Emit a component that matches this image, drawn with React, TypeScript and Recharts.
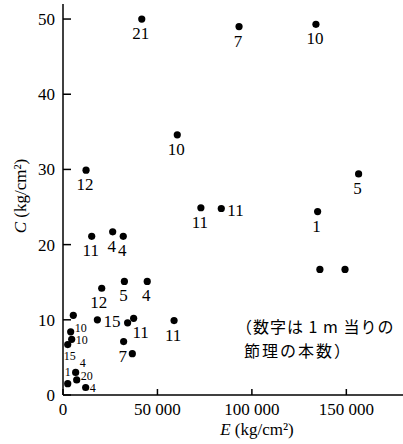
import { ScatterChart, Scatter, XAxis, YAxis, Label } from 'recharts';

// E (kg/cm2), C (kg/cm2) and joint count per metre
const modulusE = [
  41700, 60500, 12200, 93200, 133900, 156500, 134800, 83800, 73000, 15200,
  26300, 31900, 32500, 44600, 20500, 18200, 34200, 37400, 32100, 36700,
  58800, 5450, 4070, 4600, 2500, 2500, 6700, 7250, 12000, 136000, 149300,
];
const strengthC = [
  50.0, 34.6, 29.9, 49.0, 49.3, 29.4, 24.4, 24.8, 24.9, 21.1,
  21.7, 21.1, 15.1, 15.1, 14.2, 10.0, 9.6, 10.2, 7.1, 5.5,
  9.9, 10.6, 8.4, 7.4, 6.7, 1.5, 3.0, 2.0, 1.0, 16.7, 16.7,
];
const jointCount = [
  '21', '10', '12', '7', '10', '5', '1', '11', '11', '11',
  '4', '4', '5', '4', '12', '15', '', '11', '7', '',
  '11', '', '10', '10', '15', '1', '4', '20', '4', '', '',
];
const labelSide = [
  'below', 'below', 'below', 'below', 'below', 'below', 'below', 'right', 'below', 'below',
  'below', 'below', 'below', 'below', 'belowLeft', 'right', '', 'belowRight', 'below', '',
  'below', '', 'upRightSmall', 'rightSmall', 'belowSmall', 'aboveSmall', 'aboveRightSmall', 'upRightSmall', 'rightSmall', '', '',
];
const xTicks = [0, 50000, 100000, 150000];
const yTicks = [0, 10, 20, 30, 40, 50];

const points = modulusE.map((e, i) => ({ e, c: strengthC[i], n: jointCount[i], side: labelSide[i] }));

const serif = '"Liberation Serif", "DejaVu Serif", serif';

const offsets: Record<string, { dx: number; dy: number; anchor: string; size: number }> = {
  below: { dx: -1, dy: 20, anchor: 'middle', size: 17 },
  belowLeft: { dx: -3, dy: 20, anchor: 'middle', size: 17 },
  belowRight: { dx: 7, dy: 20, anchor: 'middle', size: 17 },
  right: { dx: 6, dy: 7, anchor: 'start', size: 17 },
  rightSmall: { dx: 4, dy: 5, anchor: 'start', size: 12 },
  upRightSmall: { dx: 4, dy: 0, anchor: 'start', size: 12 },
  belowSmall: { dx: 2, dy: 15, anchor: 'middle', size: 12 },
  aboveSmall: { dx: 0, dy: -8, anchor: 'middle', size: 12 },
  aboveRightSmall: { dx: 7, dy: -5, anchor: 'middle', size: 12 },
};

const Dot = (props: any) => {
  const { cx, cy, payload } = props;
  const o = offsets[payload.side];
  return (
    <g>
      <circle cx={cx} cy={cy} r={3.6} fill="#000" />
      {o && payload.n && (
        <text x={cx + o.dx} y={cy + o.dy} textAnchor={o.anchor} fontSize={o.size} fontFamily={serif} fill="#000">
          {payload.n}
        </text>
      )}
    </g>
  );
};

const fmtX = (v: number) => (v === 0 ? '0' : `${v / 1000} 000`);

export default function App() {
  return (
    <div style={{ position: 'absolute', left: 0, top: 0, background: '#fff' }}>
      <ScatterChart width={403} height={444} margin={{ top: 4, right: 0, bottom: 0, left: 0 }}>
        <XAxis
          type="number"
          dataKey="e"
          domain={[0, 180000]}
          ticks={xTicks}
          tickFormatter={fmtX}
          height={49}
          tickSize={-6}
          tickMargin={14}
          stroke="#000"
          strokeWidth={1.5}
          tick={{ fill: '#000', fontSize: 17, fontFamily: serif }}
        >
          <Label
            content={() => (
              <text x={257} y={435} textAnchor="middle" fontSize={17} fontFamily={serif} fill="#000">
                <tspan fontStyle="italic">E</tspan> (kg/cm²)
              </text>
            )}
          />
        </XAxis>
        <YAxis
          type="number"
          dataKey="c"
          domain={[0, 52]}
          ticks={yTicks}
          width={63}
          tickSize={-8}
          tickMargin={16}
          stroke="#000"
          strokeWidth={1.5}
          tick={{ fill: '#000', fontSize: 17, fontFamily: serif }}
        >
          <Label
            content={() => (
              <text x={0} y={0} transform="translate(26 196) rotate(-90)" textAnchor="middle" fontSize={17} fontFamily={serif} fill="#000">
                <tspan fontStyle="italic">C</tspan> (kg/cm²)
              </text>
            )}
          />
        </YAxis>
        <Scatter data={points} shape={Dot} isAnimationActive={false} />
        <text x={236} y={333} fontSize={16} fontFamily='"Noto Sans CJK JP", sans-serif' fill="#000" letterSpacing={1}>
          （数字は 1 m 当りの
        </text>
        <text x={244} y={357} fontSize={16} fontFamily='"Noto Sans CJK JP", sans-serif' fill="#000" letterSpacing={2}>
          節理の本数）
        </text>
      </ScatterChart>
    </div>
  );
}
